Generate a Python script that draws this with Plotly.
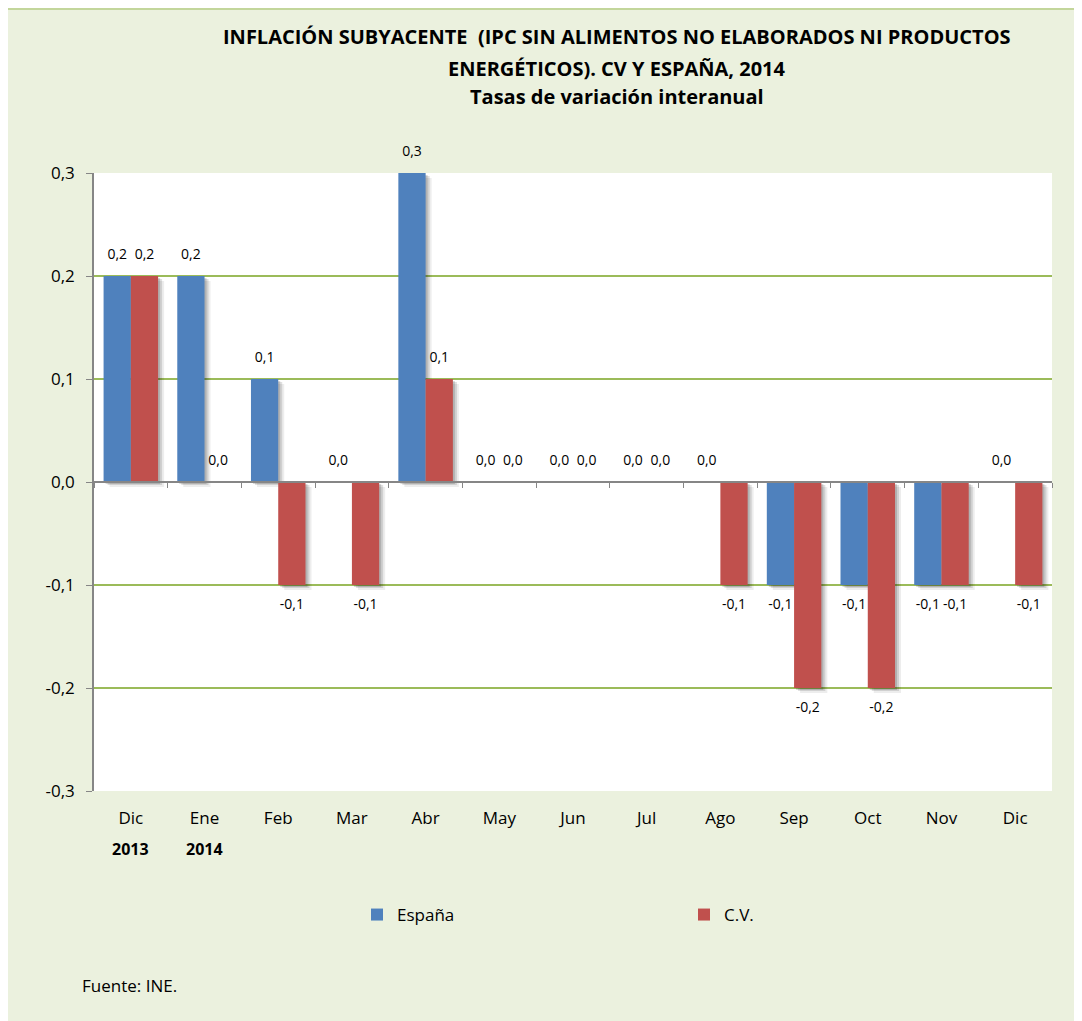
import plotly.graph_objects as go

categories = ["Dic", "Ene", "Feb", "Mar", "Abr", "May", "Jun", "Jul", "Ago", "Sep", "Oct", "Nov", "Dic"]
espana = [0.2, 0.2, 0.1, 0.0, 0.3, 0.0, 0.0, 0.0, 0.0, -0.1, -0.1, -0.1, 0.0]
cv = [0.2, 0.0, -0.1, -0.1, 0.1, 0.0, 0.0, 0.0, -0.1, -0.2, -0.2, -0.1, -0.1]
year_labels = ["2013", "2014"]
y_tickvals = [-0.3, -0.2, -0.1, 0.0, 0.1, 0.2, 0.3]
y_ticktext = ["-0,3", "-0,2", "-0,1", "0,0", "0,1", "0,2", "0,3"]

FONT = "Open Sans"
OFF = 8  # page body offset
W, H = 1082 - OFF, 1021 - OFF
L, R, T, B = 94 - OFF, 30, 173 - OFF, 230
pw, ph = W - L - R, H - T - B
YMIN, YMAX = -0.3, 0.3
BW = 0.37  # bar width in category units

def px_x(sx):
    return (sx - OFF - L) / pw

def px_y(sy):
    return (H - B - (sy - OFF)) / ph

xs = list(range(len(categories)))
unit_x = pw / len(categories)
unit_y = ph / (YMAX - YMIN)

fig = go.Figure()

# soft shadows
for dx_px, dy_px, alpha in [(6, 5, 0.07), (4, 3, 0.12), (2, 2, 0.15)]:
    for vals, off in [(espana, -BW), (cv, 0.0)]:
        fig.add_trace(go.Bar(
            x=xs, y=[abs(v) if v != 0 else None for v in vals],
            base=[min(v, 0) - dy_px / unit_y for v in vals],
            width=BW, offset=off + dx_px / unit_x,
            marker=dict(color=f"rgba(0,0,0,{alpha})", line=dict(width=0)),
            showlegend=False, hoverinfo="skip",
        ))

for name, vals, color, off in [("España", espana, "#4F81BD", -BW), ("C.V.", cv, "#C0504D", 0.0)]:
    fig.add_trace(go.Bar(
        x=xs, y=vals, name=name, width=BW, offset=off,
        marker=dict(color=color, line=dict(width=0)),
    ))

for vals, sgn in [(espana, -1), (cv, 1)]:
    fig.add_trace(go.Scatter(
        x=[i + sgn * BW / 2 for i in xs], y=vals, mode="markers+text",
        marker=dict(size=20, color="rgba(0,0,0,0)"),
        text=[f"{v:.1f}".replace(".", ",") for v in vals],
        textposition=["top center" if v >= 0 else "bottom center" for v in vals],
        textfont=dict(family=FONT, size=14, color="#000000"),
        showlegend=False, hoverinfo="skip", cliponaxis=False, xaxis="x2",
    ))

annotations = []
titles = [("<b>INFLACIÓN SUBYACENTE  (IPC SIN ALIMENTOS NO ELABORADOS NI PRODUCTOS</b>", 37),
          ("<b>ENERGÉTICOS). CV Y ESPAÑA, 2014</b>", 68),
          ("<b>Tasas de variación interanual</b>", 97)]
for txt, yy in titles:
    annotations.append(dict(text=txt, x=px_x(617), y=px_y(yy), xref="paper", yref="paper",
                            xanchor="center", yanchor="middle", showarrow=False,
                            font=dict(family=FONT, size=20, color="#000000")))
for i, yr in enumerate(year_labels):
    annotations.append(dict(text=f"<b>{yr}</b>", x=xs[i], y=px_y(849), xref="x", yref="paper",
                            xanchor="center", yanchor="middle", showarrow=False,
                            font=dict(family=FONT, size=16, color="#000000")))
annotations.append(dict(text="Fuente: INE.", x=px_x(80), y=px_y(985), xref="paper", yref="paper",
                        xanchor="left", yanchor="middle", showarrow=False,
                        font=dict(family=FONT, size=17, color="#000000")))

shapes = [
    dict(type="rect", xref="paper", yref="paper", x0=px_x(-10), x1=px_x(7), y0=px_y(1040), y1=px_y(-10),
         fillcolor="#C3D69B", line=dict(width=0), layer="above"),
    dict(type="rect", xref="paper", yref="paper", x0=px_x(-10), x1=px_x(1100), y0=px_y(10), y1=px_y(-10),
         fillcolor="#C3D69B", line=dict(width=0), layer="above"),
]

xrange = [-0.5, len(categories) - 0.5]
fig.update_layout(
    width=W, height=H,
    margin=dict(l=L, r=R, t=T, b=B, autoexpand=False),
    paper_bgcolor="#EBF1DE", plot_bgcolor="#FFFFFF",
    barmode="overlay",
    font=dict(family=FONT, size=16, color="#000000"),
    showlegend=True,
    legend=dict(orientation="h", x=px_x(357), y=px_y(915), xanchor="left", yanchor="middle",
                entrywidth=282, entrywidthmode="pixels", bgcolor="rgba(0,0,0,0)",
                font=dict(family=FONT, size=17), traceorder="normal"),
    annotations=annotations, shapes=shapes,
    xaxis=dict(range=xrange, tickvals=xs, ticktext=categories, showgrid=False, showline=False,
               zeroline=False, ticks="", tickfont=dict(family=FONT, size=17), ticklabelstandoff=15),
    xaxis2=dict(range=xrange, overlaying="x", anchor="free",
                position=(0 - YMIN) / (YMAX - YMIN), showline=True, linecolor="#868686", linewidth=1.5,
                tickvals=[i + 0.5 for i in [-1] + xs], ticks="outside", ticklen=5, tickcolor="#868686",
                showticklabels=False, showgrid=False, zeroline=False),
    yaxis=dict(range=[YMIN, YMAX], tickvals=y_tickvals, ticktext=y_ticktext, showgrid=True,
               gridcolor="#9BBB59", gridwidth=1.5, zeroline=False, showline=True,
               linecolor="#868686", linewidth=1.5, ticklabelstandoff=8,
               ticks="outside", ticklen=6, tickcolor="#868686", tickfont=dict(family=FONT, size=17)),
)
fig.write_html("out.html")
